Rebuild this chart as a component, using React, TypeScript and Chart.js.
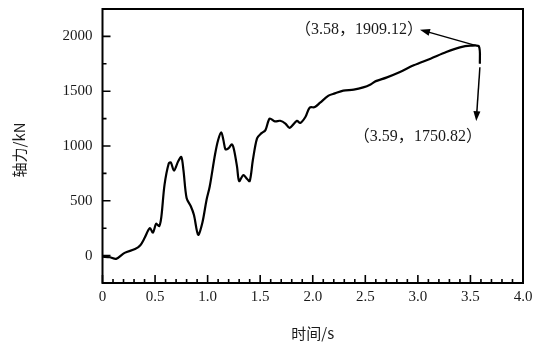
import React, { useEffect, useRef } from "react";
import { Chart, registerables } from "chart.js";

Chart.register(...registerables);

// ---- data (time in s, axial force in kN) ----
const timeS = [
  0, 0.07, 0.13, 0.21, 0.31, 0.36, 0.4, 0.45, 0.48, 0.51, 0.54, 0.56, 0.59, 0.63, 0.65,
  0.68, 0.72, 0.75, 0.77, 0.8, 0.84, 0.87, 0.91, 0.95, 0.99, 1.02, 1.07, 1.1, 1.13, 1.15,
  1.17, 1.2, 1.23, 1.25, 1.28, 1.3, 1.34, 1.37, 1.4, 1.43, 1.47, 1.51, 1.55, 1.59, 1.64,
  1.69, 1.74, 1.78, 1.85, 1.88, 1.93, 1.97, 2.02, 2.07, 2.15, 2.21, 2.29, 2.39, 2.48, 2.55,
  2.6, 2.7, 2.83, 2.96, 3.12, 3.27, 3.4, 3.5, 3.58, 3.59,
];
const axialForceKN = [
  -10, -15, -30, 25, 60, 95, 160, 250, 210, 290, 270, 355, 645, 840, 850,
  775, 860, 900, 780, 525, 450, 370, 190, 300, 510, 630, 920, 1055, 1125, 1055,
  970, 980, 1015, 970, 810, 680, 735, 705, 680, 870, 1070, 1115, 1145, 1250, 1225,
  1230, 1205, 1165, 1230, 1210, 1265, 1350, 1355, 1395, 1460, 1480, 1505, 1515, 1535, 1562,
  1592, 1624, 1675, 1736, 1797, 1857, 1900, 1915, 1909.12, 1750.82,
];

const xMajorTicks = [0, 0.5, 1, 1.5, 2, 2.5, 3, 3.5, 4];
const xMinorTicks = [
  0.1, 0.2, 0.3, 0.4, 0.6, 0.7, 0.8, 0.9, 1.1, 1.2, 1.3, 1.4, 1.6, 1.7, 1.8, 1.9,
  2.1, 2.2, 2.3, 2.4, 2.6, 2.7, 2.8, 2.9, 3.1, 3.2, 3.3, 3.4, 3.6, 3.7, 3.8, 3.9,
];
const yMajorTicks = [0, 500, 1000, 1500, 2000];
const yMinorTicks = [250, 750, 1250, 1750];

const xTitle = "时间/s";
const yTitle = "轴力/kN";

// annotations
const annotationLabels = ["（3.58，1909.12）", "（3.59，1750.82）"];
const annotationLabelX = [2.44, 3.0];
const annotationLabelY = [2061, 1084];
const arrowFromX = [3.58, 3.59];
const arrowFromY = [1909.12, 1718];
const arrowToX = [3.02, 3.555];
const arrowToY = [2061, 1227];

const SERIF = '"Liberation Serif", "Noto Sans CJK SC", serif';
const CJK = '"Noto Sans CJK SC", "Liberation Serif", sans-serif';

const decorPlugin = {
  id: "decor",
  afterDraw(chart: any) {
    const ctx = chart.ctx;
    const { left, right, top, bottom } = chart.chartArea;
    const xs = chart.scales.x;
    const ys = chart.scales.y;
    ctx.save();
    ctx.strokeStyle = "#000";
    ctx.fillStyle = "#000";
    // frame
    ctx.lineWidth = 2;
    ctx.strokeRect(left, top, right - left, bottom - top);
    // ticks (inward)
    ctx.lineWidth = 1.6;
    ctx.beginPath();
    xMajorTicks.forEach((v) => {
      const px = xs.getPixelForValue(v);
      ctx.moveTo(px, bottom);
      ctx.lineTo(px, bottom - 8);
    });
    xMinorTicks.forEach((v) => {
      const px = xs.getPixelForValue(v);
      ctx.moveTo(px, bottom);
      ctx.lineTo(px, bottom - 4);
    });
    yMajorTicks.forEach((v) => {
      const py = ys.getPixelForValue(v);
      ctx.moveTo(left, py);
      ctx.lineTo(left + 8, py);
    });
    yMinorTicks.forEach((v) => {
      const py = ys.getPixelForValue(v);
      ctx.moveTo(left, py);
      ctx.lineTo(left + 4, py);
    });
    ctx.stroke();

    // annotations
    annotationLabels.forEach((label, i) => {
      const fx = xs.getPixelForValue(arrowFromX[i]);
      const fy = ys.getPixelForValue(arrowFromY[i]);
      const tx = xs.getPixelForValue(arrowToX[i]);
      const ty = ys.getPixelForValue(arrowToY[i]);
      const ang = Math.atan2(ty - fy, tx - fx);
      const headLen = 10;
      const headW = 3.5;
      ctx.lineWidth = 1.5;
      ctx.beginPath();
      ctx.moveTo(fx, fy);
      ctx.lineTo(tx - Math.cos(ang) * headLen * 0.8, ty - Math.sin(ang) * headLen * 0.8);
      ctx.stroke();
      ctx.beginPath();
      ctx.moveTo(tx, ty);
      ctx.lineTo(
        tx - Math.cos(ang) * headLen - Math.sin(ang) * headW,
        ty - Math.sin(ang) * headLen + Math.cos(ang) * headW
      );
      ctx.lineTo(
        tx - Math.cos(ang) * headLen + Math.sin(ang) * headW,
        ty - Math.sin(ang) * headLen - Math.cos(ang) * headW
      );
      ctx.closePath();
      ctx.fill();

      ctx.font = `16px ${SERIF}`;
      ctx.fillStyle = "#1a1a1a";
      ctx.textAlign = "center";
      ctx.textBaseline = "middle";
      ctx.fillText(
        label,
        xs.getPixelForValue(annotationLabelX[i]),
        ys.getPixelForValue(annotationLabelY[i])
      );
      ctx.fillStyle = "#000";
    });

    // axis titles
    ctx.fillStyle = "#1a1a1a";
    ctx.font = `15px ${CJK}`;
    ctx.textAlign = "center";
    ctx.textBaseline = "middle";
    ctx.fillText(xTitle, (left + right) / 2, 333);
    ctx.save();
    ctx.translate(19, (top + bottom) / 2 + 4);
    ctx.rotate(-Math.PI / 2);
    ctx.fillText(yTitle, 0, 0);
    ctx.restore();
    ctx.restore();
  },
};

export default function App() {
  const canvasRef = useRef<HTMLCanvasElement | null>(null);

  useEffect(() => {
    const canvas = canvasRef.current;
    if (!canvas) return;
    const chart = new Chart(canvas, {
      type: "line",
      data: {
        datasets: [
          {
            data: timeS.map((t, i) => ({ x: t, y: axialForceKN[i] })),
            borderColor: "#000",
            borderWidth: 2.2,
            pointRadius: 0,
            tension: 0.3,
            fill: false,
          },
        ],
      },
      options: {
        responsive: false,
        animation: false,
        devicePixelRatio: 1,
        layout: { padding: { top: 9, right: 10, left: 0, bottom: 0 } },
        plugins: {
          legend: { display: false },
          tooltip: { enabled: false },
          title: { display: false },
        },
        scales: {
          x: {
            type: "linear",
            min: 0,
            max: 4,
            grid: { display: false, drawTicks: false },
            border: { display: false },
            afterBuildTicks: (scale: any) => {
              scale.ticks = xMajorTicks.map((v) => ({ value: v }));
            },
            afterFit: (scale: any) => {
              scale.height = 63;
              scale.paddingLeft = 0;
              scale.paddingRight = 0;
            },
            ticks: {
              padding: 5,
              maxRotation: 0,
              autoSkip: false,
              color: "#1a1a1a",
              font: { family: SERIF, size: 15 },
              callback: (v: any) => (Number(v) === 0 ? "0" : Number(v).toFixed(1)),
            },
          },
          y: {
            type: "linear",
            min: -250,
            max: 2250,
            grid: { display: false, drawTicks: false },
            border: { display: false },
            afterBuildTicks: (scale: any) => {
              scale.ticks = yMajorTicks.map((v) => ({ value: v }));
            },
            afterFit: (scale: any) => {
              scale.width = 102.5;
              scale.paddingTop = 0;
              scale.paddingBottom = 0;
            },
            ticks: {
              padding: 10,
              autoSkip: false,
              color: "#1a1a1a",
              font: { family: SERIF, size: 15 },
              callback: (v: any) => String(v),
            },
          },
        },
      },
      plugins: [decorPlugin],
    } as any);
    return () => chart.destroy();
  }, []);

  return (
    <div style={{ position: "absolute", left: 0, top: 0, width: 533, height: 346, background: "#fff" }}>
      <canvas ref={canvasRef} width={533} height={346} />
    </div>
  );
}
